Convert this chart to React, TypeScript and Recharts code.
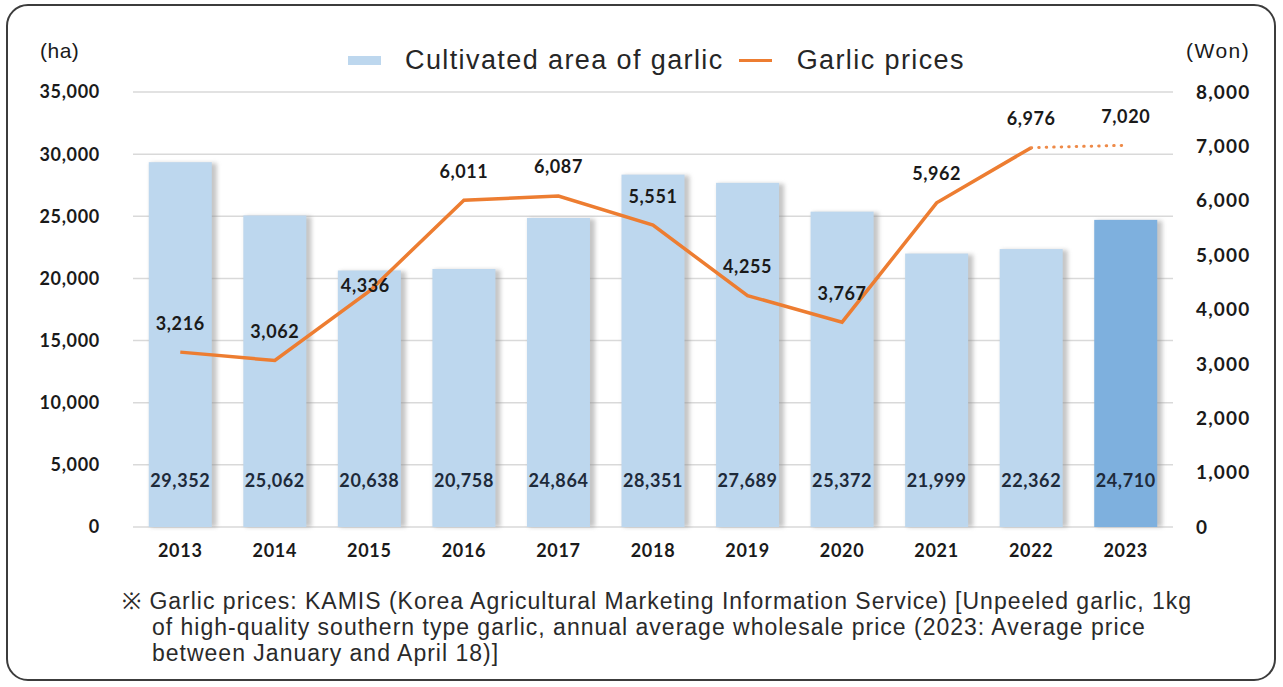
import React from 'react';
import { ComposedChart, Bar, Line, XAxis, YAxis, CartesianGrid, LabelList } from 'recharts';

const years = ['2013', '2014', '2015', '2016', '2017', '2018', '2019', '2020', '2021', '2022', '2023'];
const cultivatedArea = [29352, 25062, 20638, 20758, 24864, 28351, 27689, 25372, 21999, 22362, 24710];
const garlicPrices: (number | null)[] = [3216, 3062, 4336, 6011, 6087, 5551, 4255, 3767, 5962, 6976, null];
const garlicPricesEstimate: (number | null)[] = [null, null, null, null, null, null, null, null, null, 6976, 7020];
const areaTicks = [0, 5000, 10000, 15000, 20000, 25000, 30000, 35000];
const priceTicks = [0, 1000, 2000, 3000, 4000, 5000, 6000, 7000, 8000];

const highlightYear = '2023';

const data = years.map((year, i) => ({
  year,
  area: cultivatedArea[i],
  price: garlicPrices[i],
  priceEst: garlicPricesEstimate[i],
}));

const W = 1283;
const H = 687;
const ORANGE = '#ED7D31';
const LIGHT_BLUE = '#BDD7EE';
const DARK_BLUE = '#7EB0DE';
const numFont = 'Lato, "Open Sans", sans-serif';
const textFont = '"Liberation Sans", Arial, sans-serif';

const fmt = (v: number) => v.toLocaleString('en-US');

const tickStyle = { fill: '#1a1a1a', fontSize: 18, fontWeight: 700, fontFamily: numFont, letterSpacing: 0.7 };

const BarShape = (props: any) => {
  const { x, y, width, height, payload } = props;
  if (height == null || height <= 0) return null;
  const fill = payload && payload.year === highlightYear ? DARK_BLUE : LIGHT_BLUE;
  return (
    <g>
      <rect x={x + 2} y={y + 1} width={width + 3} height={height - 1} fill="#8c8c8c" opacity={0.5} filter="url(#barShadow)" />
      <rect x={x} y={y} width={width} height={height} fill={fill} />
    </g>
  );
};

const BarValueLabel = (props: any) => {
  const { x, y, width, height, value } = props;
  if (value == null) return null;
  return (
    <text
      x={x + width / 2}
      y={y + height - 46}
      dy="0.36em"
      textAnchor="middle"
      fill="#1e2a3a"
      fontSize={18}
      fontWeight={700}
      fontFamily={numFont}
      letterSpacing={0.6}
    >
      {fmt(value)}
    </text>
  );
};

const makeLineLabel = (onlyLast: boolean) => (props: any) => {
  const { x, y, value, index } = props;
  if (value == null) return null;
  if (onlyLast && index !== years.length - 1) return null;
  let dx = 0;
  let dy = -29;
  if (years[index] === '2015') {
    dx = -4;
    dy = -6;
  }
  return (
    <text
      x={x + dx}
      y={y + dy}
      dy="0.36em"
      textAnchor="middle"
      fill="#1a1a1a"
      fontSize={18}
      fontWeight={700}
      fontFamily={numFont}
      letterSpacing={0.6}
    >
      {fmt(value)}
    </text>
  );
};

export default function App() {
  return (
    <div style={{ position: 'relative', width: W, height: H, background: '#fff', overflow: 'hidden' }}>
      <style>{`body{margin:0;}`}</style>
      <div
        style={{
          position: 'absolute',
          left: 6,
          top: 4,
          width: 1270,
          height: 677,
          border: '2px solid #3c3c3c',
          borderRadius: 22,
          boxSizing: 'border-box',
        }}
      />
      <ComposedChart
        width={W}
        height={H}
        data={data}
        margin={{ top: 92, right: 0, bottom: 130, left: 0 }}
        barCategoryGap="16.7%"
        style={{ position: 'absolute', left: 0, top: 0 }}
      >
        <defs>
          <filter id="barShadow" x="-30%" y="-10%" width="160%" height="120%">
            <feGaussianBlur stdDeviation="2" />
          </filter>
        </defs>
        <CartesianGrid yAxisId="left" vertical={false} stroke="#d9d9d9" strokeWidth={1.5} />
        <XAxis
          dataKey="year"
          axisLine={false}
          tickLine={false}
          tickSize={0}
          tickMargin={17}
          height={30}
          tick={tickStyle}
        />
        <YAxis
          yAxisId="left"
          orientation="left"
          width={133}
          domain={[0, 35000]}
          ticks={areaTicks}
          interval={0}
          axisLine={false}
          tickLine={false}
          tickSize={0}
          tickMargin={33}
          tickFormatter={fmt}
          tick={tickStyle}
        />
        <YAxis
          yAxisId="right"
          orientation="right"
          width={110}
          domain={[0, 8000]}
          ticks={priceTicks}
          interval={0}
          axisLine={false}
          tickLine={false}
          tickSize={0}
          tickMargin={23}
          tickFormatter={fmt}
          tick={{ ...tickStyle, fontSize: 19, letterSpacing: 1.2, textAnchor: 'start' }}
        />
        <Bar yAxisId="left" dataKey="area" shape={<BarShape />} isAnimationActive={false}>
          <LabelList dataKey="area" content={<BarValueLabel />} />
        </Bar>
        <Line
          yAxisId="right"
          dataKey="price"
          stroke={ORANGE}
          strokeWidth={3.5}
          dot={false}
          activeDot={false}
          connectNulls={false}
          isAnimationActive={false}
        >
          <LabelList dataKey="price" content={makeLineLabel(false)} />
        </Line>
        <Line
          yAxisId="right"
          dataKey="priceEst"
          stroke="#EE8A48"
          strokeWidth={3}
          strokeDasharray="0.5 7"
          strokeLinecap="round"
          dot={false}
          activeDot={false}
          isAnimationActive={false}
        >
          <LabelList dataKey="priceEst" content={makeLineLabel(true)} />
        </Line>
      </ComposedChart>

      <div style={{ position: 'absolute', left: 40, top: 39, fontFamily: textFont, fontSize: 21, letterSpacing: 0.5, color: '#1a1a1a' }}>(ha)</div>
      <div style={{ position: 'absolute', left: 1186, top: 39, fontFamily: textFont, fontSize: 21, letterSpacing: 1.5, color: '#1a1a1a' }}>(Won)</div>

      <div
        style={{
          position: 'absolute',
          left: 348,
          top: 43,
          display: 'flex',
          alignItems: 'center',
          fontFamily: textFont,
          fontSize: 27,
          letterSpacing: 1.4,
          color: '#262626',
          whiteSpace: 'nowrap',
          height: 34,
        }}
      >
        <span style={{ display: 'inline-block', width: 33, height: 9, background: LIGHT_BLUE, marginRight: 24 }} />
        <span>Cultivated area of garlic</span>
        <span style={{ display: 'inline-block', width: 33, height: 3, background: ORANGE, marginLeft: 15, marginRight: 25 }} />
        <span>Garlic prices</span>
      </div>

      <div
        style={{
          position: 'absolute',
          left: 122,
          top: 588,
          width: 1150,
          fontFamily: textFont,
          fontSize: 23,
          letterSpacing: 1,
          lineHeight: '26px',
          color: '#2a2a2a',
          whiteSpace: 'nowrap',
        }}
      >
        <div>※ Garlic prices: KAMIS (Korea Agricultural Marketing Information Service) [Unpeeled garlic, 1kg</div>
        <div style={{ paddingLeft: 30 }}>of high-quality southern type garlic, annual average wholesale price (2023: Average price</div>
        <div style={{ paddingLeft: 30 }}>between January and April 18)]</div>
      </div>
    </div>
  );
}
